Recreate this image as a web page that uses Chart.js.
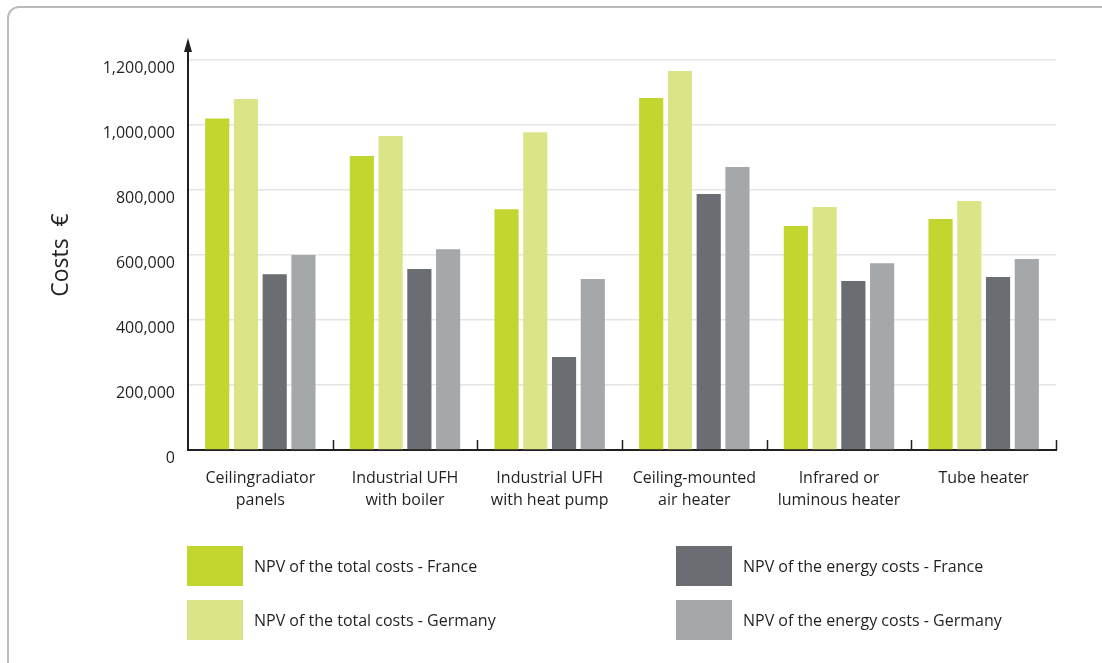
<!DOCTYPE html>
<html>
<head>
<meta charset="utf-8">
<script src="https://cdn.jsdelivr.net/npm/chart.js@4.4.1/dist/chart.umd.min.js"></script>
<style>
  html, body { margin: 0; padding: 0; background: #ffffff; }
  #wrap { position: relative; width: 1102px; height: 663px; overflow: hidden; }
  #frame { position: absolute; left: 7px; top: 6px; width: 1200px; height: 700px;
           border: 2px solid #b9bcbf; border-radius: 12px; box-sizing: border-box; }
  canvas { position: absolute; left: 0; top: 0; }
</style>
</head>
<body>
<div id="wrap">
  <div id="frame"></div>
  <canvas id="c" width="1102" height="663"></canvas>
</div>
<script>
const categories = [
  ["Ceilingradiator", "panels"],
  ["Industrial UFH", "with boiler"],
  ["Industrial UFH", "with heat pump"],
  ["Ceiling-mounted", "air heater"],
  ["Infrared or", "luminous heater"],
  ["Tube heater"]
];
const seriesNames = [
  "NPV of the total costs - France",
  "NPV of the total costs - Germany",
  "NPV of the energy costs - France",
  "NPV of the energy costs - Germany"
];
const totalFrance   = [1020000, 905000, 741000, 1083000, 689000, 711000];
const totalGermany  = [1080000, 966000, 978000, 1166000, 748000, 766000];
const energyFrance  = [541000, 557000, 286000, 788000, 520000, 532000];
const energyGermany = [600000, 618000, 526000, 871000, 575000, 588000];
const yTicks = [0, 200000, 400000, 600000, 800000, 1000000, 1200000];
const seriesColors = ["#c3d52f", "#dbe587", "#6a6d71", "#a5a8ab"];

const FONT = "'Open Sans', 'Noto Sans', sans-serif";
const TEXT = "#231f20";

const decorations = {
  id: 'decorations',
  afterDraw(chart) {
    const ctx = chart.ctx;
    const x = chart.scales.x;
    const area = chart.chartArea;
    ctx.save();
    // y axis extension + arrow
    ctx.strokeStyle = "#231f20";
    ctx.lineWidth = 2;
    ctx.beginPath();
    ctx.moveTo(area.left, area.top);
    ctx.lineTo(area.left, area.top - 12);
    ctx.stroke();
    ctx.fillStyle = "#231f20";
    ctx.beginPath();
    ctx.moveTo(area.left, area.top - 22);
    ctx.lineTo(area.left - 4, area.top - 8);
    ctx.lineTo(area.left + 4, area.top - 8);
    ctx.closePath();
    ctx.fill();
    // inward category boundary ticks
    ctx.lineWidth = 1.5;
    const n = categories.length;
    for (let i = 1; i <= n; i++) {
      const px = Math.round(x.getPixelForValue(i - 0.5)) + 0.5;
      ctx.beginPath();
      ctx.moveTo(px, area.bottom);
      ctx.lineTo(px, area.bottom - 10);
      ctx.stroke();
    }
    // legend (two columns: total costs / energy costs)
    const order = [0, 2, 1, 3];
    const cols = [187, 676];
    const rows = [546, 600];
    ctx.font = "16px " + FONT;
    ctx.textBaseline = "middle";
    ctx.textAlign = "left";
    order.forEach((dsi, k) => {
      const ds = chart.data.datasets[dsi];
      const col = k % 2, row = Math.floor(k / 2);
      const bx = cols[col], by = rows[row];
      ctx.fillStyle = ds.backgroundColor;
      ctx.fillRect(bx, by, 56, 40);
      ctx.fillStyle = TEXT;
      ctx.fillText(ds.label, bx + 67, by + 21);
    });
    ctx.restore();
  }
};

const data = {
  labels: categories,
  datasets: [
    { label: seriesNames[0], data: totalFrance, backgroundColor: seriesColors[0] },
    { label: seriesNames[1], data: totalGermany, backgroundColor: seriesColors[1] },
    { label: seriesNames[2], data: energyFrance, backgroundColor: seriesColors[2] },
    { label: seriesNames[3], data: energyGermany, backgroundColor: seriesColors[3] }
  ]
};

new Chart(document.getElementById('c'), {
  type: 'bar',
  data,
  options: {
    responsive: false,
    animation: false,
    devicePixelRatio: 1,
    layout: { padding: { left: 0, top: 60, right: 46, bottom: 0 } },
    datasets: { bar: { categoryPercentage: 0.795, barPercentage: 0.84 } },
    plugins: { legend: { display: false }, tooltip: { enabled: false } },
    scales: {
      x: {
        grid: { display: false, drawTicks: false },
        border: { display: true, color: "#231f20", width: 2 },
        ticks: { color: TEXT, font: { family: FONT, size: 16, lineHeight: 1.4 }, padding: 17, maxRotation: 0, autoSkip: false },
        afterFit(scale) { scale.height = 213; }
      },
      y: {
        min: 0, max: 1200000,
        afterBuildTicks(scale) { scale.ticks = yTicks.map(v => ({ value: v })); },
        grid: {
          drawTicks: false,
          color: ctx => ctx.tick && ctx.tick.value === 0 ? 'rgba(0,0,0,0)' : '#e4e4e4',
          lineWidth: 1.5
        },
        border: { display: true, color: "#231f20", width: 2 },
        ticks: {
          color: TEXT, font: { family: FONT, size: 16 }, padding: 13, labelOffset: 8,
          callback: v => v.toLocaleString('en-US')
        },
        title: { display: true, text: "Costs  €", color: TEXT, font: { family: FONT, size: 23 }, padding: { top: 48, bottom: 0 } },
        afterFit(scale) { scale.width = 188; }
      }
    }
  },
  plugins: [decorations]
});
</script>
</body>
</html>
